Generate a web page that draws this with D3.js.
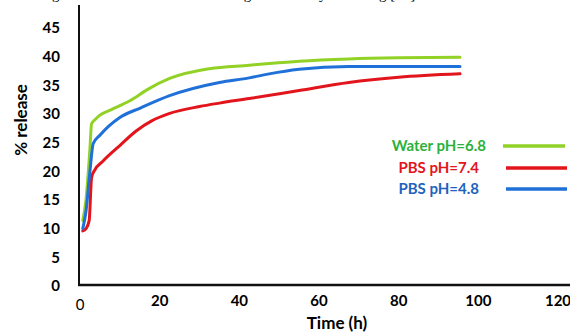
<!DOCTYPE html>
<html>
<head>
<meta charset="utf-8">
<script src="https://cdn.jsdelivr.net/npm/d3@7"></script>
<style>
  body { margin: 0; background: #fff; }
  svg text { font-family: Lato, "Noto Sans", sans-serif; }
</style>
</head>
<body>
<svg id="chart" width="570" height="333"></svg>
<script>
// release data
var waterTime = [0.7, 1.5, 2.5, 2.9, 3.75, 5, 8, 12.5, 17, 22.5, 32.5, 42.5, 47.5, 55, 67.5, 80, 95.4];
var waterVal  = [11.4, 15, 24, 28.3, 29, 29.8, 30.8, 32.3, 34.3, 36.2, 37.9, 38.5, 38.8, 39.2, 39.6, 39.8, 39.9];

var pbs74Time = [0.7, 1.5, 2.3, 2.9, 3.5, 5.8, 10, 14, 18, 22.5, 30, 35, 42.5, 55, 67.5, 80, 95.4];
var pbs74Val  = [9.6, 10, 11.4, 18.9, 20, 21.8, 24.5, 27, 28.8, 30.1, 31.3, 31.9, 32.7, 34.1, 35.5, 36.4, 37];

var pbs48Time = [0.7, 1.5, 2.5, 3.3, 5, 10, 15, 22.5, 35, 42.5, 47.5, 55, 67.5, 80, 95.4];
var pbs48Val  = [10, 13, 20, 24.8, 26.3, 29.4, 31, 33.2, 35.5, 36.3, 37, 37.8, 38.3, 38.3, 38.3];

var yTicks = [0, 5, 10, 15, 20, 25, 30, 35, 40, 45];
var xTicks = [0, 20, 40, 60, 80, 100, 120];

var seriesNames = ["Water pH=6.8", "PBS pH=7.4", "PBS pH=4.8"];
var lineColors = ["#92d226", "#e2151c", "#1f70d8"];
var textColors = ["#2bb13b", "#e2151c", "#1f63bd"];

var svg = d3.select("#chart");

var x = d3.scaleLinear().domain([0, 120]).range([80, 558]);
var y = d3.scaleLinear().domain([0, 45]).range([286, 28]);

// clipped caption line from the page above
svg.append("text")
    .attr("x", -5).attr("y", -1)
    .style("font-family", "'Liberation Serif', serif")
    .style("font-size", "15px")
    .text("s and a higher release was achieved during the first day of testing [15].");

// axes
svg.append("line")
    .attr("x1", 79).attr("x2", 79).attr("y1", 5).attr("y2", 286)
    .attr("stroke", "#111").attr("stroke-width", 2);
svg.append("line")
    .attr("x1", 78).attr("x2", 570).attr("y1", 285).attr("y2", 285)
    .attr("stroke", "#111").attr("stroke-width", 2.5);

svg.selectAll(".ylab")
    .data(yTicks)
  .enter().append("text")
    .attr("class", "ylab")
    .attr("x", 60)
    .attr("y", function(d) { return y(d); })
    .attr("dy", "0.36em")
    .attr("text-anchor", "end")
    .style("font-size", "15px")
    .style("font-weight", "bold")
    .text(function(d) { return d; });

svg.selectAll(".xlab")
    .data(xTicks)
  .enter().append("text")
    .attr("class", "xlab")
    .attr("x", function(d) { return x(d); })
    .attr("y", function(d) { return d === 0 ? 305 : 301; })
    .attr("dy", "0.36em")
    .attr("text-anchor", "middle")
    .style("font-size", "15px")
    .style("font-weight", function(d) { return d === 0 ? "normal" : "bold"; })
    .text(function(d) { return d; });

svg.append("text")
    .attr("x", 337).attr("y", 323).attr("dy", "0.36em")
    .attr("text-anchor", "middle")
    .style("font-size", "17px").style("font-weight", "bold")
    .text("Time (h)");

svg.append("text")
    .attr("transform", "translate(21,120) rotate(-90)")
    .attr("dy", "0.36em")
    .attr("text-anchor", "middle")
    .style("font-size", "17px").style("font-weight", "bold")
    .text("% release");

// curves
var line = d3.line()
    .x(function(d) { return x(d[0]); })
    .y(function(d) { return y(d[1]); })
    .curve(d3.curveMonotoneX);

var series = [
  d3.zip(waterTime, waterVal),
  d3.zip(pbs74Time, pbs74Val),
  d3.zip(pbs48Time, pbs48Val)
];

svg.selectAll(".curve")
    .data(series)
  .enter().append("path")
    .attr("class", "curve")
    .attr("fill", "none")
    .attr("stroke", function(d, i) { return lineColors[i]; })
    .attr("stroke-width", 3)
    .attr("stroke-linecap", "round")
    .attr("d", line);

// legend
var legendY = [146, 168, 189];
var lg = svg.selectAll(".leg")
    .data(seriesNames)
  .enter().append("g")
    .attr("class", "leg")
    .attr("transform", function(d, i) { return "translate(0," + legendY[i] + ")"; });

lg.append("text")
    .attr("x", function(d, i) { return i === 0 ? 486 : 479; })
    .attr("dy", "0.36em")
    .attr("text-anchor", "end")
    .style("font-size", "15px").style("font-weight", "bold")
    .style("fill", function(d, i) { return textColors[i]; })
    .text(function(d) { return d; });

lg.append("line")
    .attr("x1", function(d, i) { return i === 0 ? 503 : 506; })
    .attr("x2", function(d, i) { return i === 0 ? 565 : 567; })
    .attr("stroke", function(d, i) { return lineColors[i]; })
    .attr("stroke-width", 3.5);
</script>
</body>
</html>
